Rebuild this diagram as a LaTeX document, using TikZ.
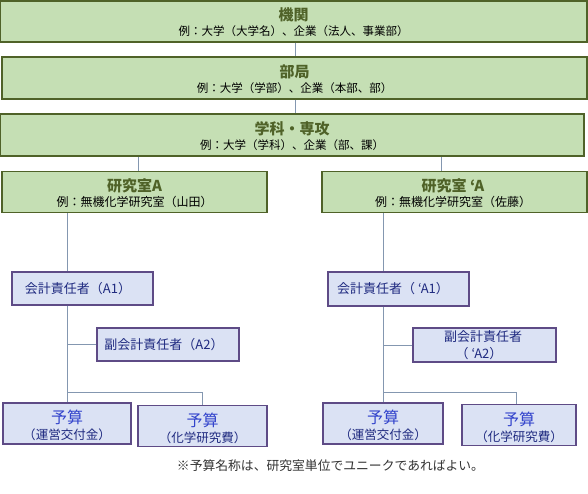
\documentclass[tikz,border=0pt]{standalone}
\usepackage{fontspec}
\setmainfont{Noto Sans CJK JP}
\definecolor{gfill}{HTML}{C5DFB4}
\definecolor{gdraw}{HTML}{4F6228}
\definecolor{gtext}{HTML}{4F6228}
\definecolor{bfill}{HTML}{DBE2F4}
\definecolor{bdraw}{HTML}{5E4B86}
\definecolor{btext}{HTML}{1F2A80}
\definecolor{ytext}{HTML}{3344CC}
\definecolor{cline}{HTML}{8497B0}
\definecolor{ftext}{HTML}{333333}
\begin{document}
\begin{tikzpicture}[x=1pt,y=-1pt,
  gbox/.style={draw=gdraw,fill=gfill,line width=1.3pt,rectangle,inner sep=0pt},
  bbox/.style={draw=bdraw,fill=bfill,line width=1.1pt,rectangle,inner sep=0pt},
  conn/.style={draw=cline,line width=1pt},
  ttl/.style={font=\bfseries\fontsize{15}{18}\selectfont,text=gtext,inner sep=0pt},
  subt/.style={font=\fontsize{11.5}{14}\selectfont,text=black,inner sep=0pt},
  subl/.style={font=\fontsize{12}{14}\selectfont,text=black,inner sep=0pt},
  btxt/.style={font=\fontsize{13}{15}\selectfont,text=btext,inner sep=0pt},
  ytxt/.style={font=\fontsize{16}{18}\selectfont,text=ytext,inner sep=0pt},
  ysub/.style={font=\fontsize{12.5}{14}\selectfont,text=btext,inner sep=0pt},
  note/.style={font=\fontsize{12.8}{14}\selectfont,text=ftext,inner sep=0pt}
]
\useasboundingbox (0,0) rectangle (588,493);
% green boxes
\node[gbox,minimum width=587pt,minimum height=41pt] (kikan) at (293.5,21.5) {};
\node[gbox,minimum width=585pt,minimum height=42pt] (bukyoku) at (294.5,78) {};
\node[gbox,minimum width=584pt,minimum height=42pt] (gakka) at (292,135) {};
\node[gbox,minimum width=265pt,minimum height=41pt] (labA) at (134.5,192) {};
\node[gbox,minimum width=265pt,minimum height=41pt] (labB) at (454.5,192) {};
% blue boxes left
\node[bbox,minimum width=141pt,minimum height=33pt] (a1) at (82.5,288.5) {};
\node[bbox,minimum width=142pt,minimum height=33pt] (a2) at (168,344.5) {};
\node[bbox,minimum width=128pt,minimum height=41pt] (bL) at (67,423.5) {};
\node[bbox,minimum width=129pt,minimum height=41pt] (bR) at (202.5,426) {};
% blue boxes right
\node[bbox,minimum width=141pt,minimum height=34pt] (ra1) at (398.5,289) {};
\node[bbox,minimum width=143pt,minimum height=34pt] (ra2) at (484.5,345) {};
\node[bbox,minimum width=120pt,minimum height=41pt] (brl) at (383,423.5) {};
\node[bbox,minimum width=114pt,minimum height=41pt] (brr) at (519,425) {};
% texts
\node[ttl] (kikanT) at (293.5,15) {機関};
\node[subt] (kikanS) at (293.5,31.5) {例：大学（大学名）、企業（法人、事業部）};
\node[ttl] (bukyokuT) at (294.5,72) {部局};
\node[subt] (bukyokuS) at (294.5,88.5) {例：大学（学部）、企業（本部、部）};
\node[ttl] (gakkaT) at (292,129) {学科・専攻};
\node[subt] (gakkaS) at (292,145.5) {例：大学（学科）、企業（部、課）};
\node[ttl] (labAT) at (134.5,185.5) {研究室A};
\node[subl] (labAS) at (134.5,201.5) {例：無機化学研究室（山田）};
\node[ttl] (labBT) at (453,185.5) {研究室 ‘A};
\node[subl] (labBS) at (453,201.5) {例：無機化学研究室（佐藤）};
\node[btxt] (a1T) at (78,288.5) {会計責任者（A1）};
\node[btxt] (a2T) at (164,344.5) {副会計責任者（A2）};
\node[btxt] (ra1T) at (393,289) {会計責任者（ ‘A1）};
\node[btxt] (ra2T) at (483,337) {副会計責任者};
\node[btxt] (ra2U) at (479,354) {（ ‘A2）};
\node[ytxt] (bLT) at (67,417) {予算};
\node[ysub] (bLS) at (67,435) {（運営交付金）};
\node[ytxt] (bRT) at (202.5,420) {予算};
\node[ysub] (bRS) at (202.5,438) {（化学研究費）};
\node[ytxt] (brlT) at (383,417) {予算};
\node[ysub] (brlS) at (383,435) {（運営交付金）};
\node[ytxt] (brrT) at (519,419) {予算};
\node[ysub] (brrS) at (519,437) {（化学研究費）};
\node[note] (noteT) at (330.5,465.5) {※予算名称は、研究室単位でユニークであればよい。};
% connectors top
\draw[conn] ([xshift=1.5pt]kikan.south) -- ([xshift=0.5pt]bukyoku.north);
\draw[conn] ([xshift=0.5pt]bukyoku.south) -- ([xshift=3pt]gakka.north);
\draw[conn] ([xshift=3.5pt]labA.north) -- ([xshift=3.5pt]labA.north |- gakka.south);
\draw[conn] ([xshift=-13.5pt]labB.north) -- ([xshift=-13.5pt]labB.north |- gakka.south);
% left tree
\coordinate (jL) at (67,392);
\draw[conn] (labA.south -| bL.north) -- (a1.north -| bL.north);
\draw[conn] (a1.south -| bL.north) -- (bL.north);
\draw[conn] (a2.west) -- (a2.west -| bL.north);
\draw[conn] (jL) -| (bR.north);
% right tree
\coordinate (jR) at (383,392);
\draw[conn] (labB.south -| brl.north) -- (ra1.north -| brl.north);
\draw[conn] (ra1.south -| brl.north) -- (brl.north);
\draw[conn] (ra2.west) -- (ra2.west -| brl.north);
\draw[conn] (jR) -| ([xshift=-3pt]brr.north);
\end{tikzpicture}
\end{document}
